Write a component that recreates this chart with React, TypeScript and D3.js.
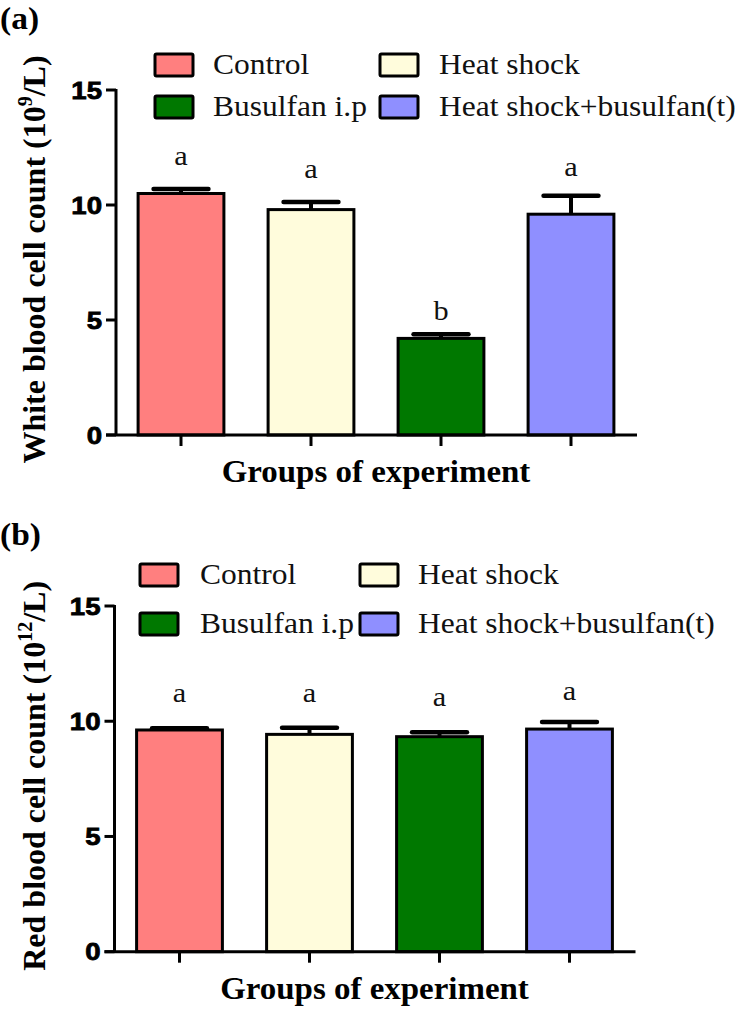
import React from "react";
import * as d3 from "d3";

const groups = ["Control", "Heat shock", "Busulfan i.p", "Heat shock+busulfan(t)"];
const colors = ["#FF7F7F", "#FFFCDC", "#007800", "#8F8FFF"];
const wbcMean = [10.5, 9.8, 4.2, 9.6];
const wbcErr = [0.2, 0.33, 0.18, 0.8];
const wbcLetters = ["a", "a", "b", "a"];
const rbcMean = [9.62, 9.43, 9.33, 9.66];
const rbcErr = [0.08, 0.29, 0.19, 0.31];
const rbcLetters = ["a", "a", "a", "a"];
const yTicks = [0, 5, 10, 15];

const SERIF = "'Liberation Serif', 'Times New Roman', serif";
const SANS = "'Liberation Sans', Arial, sans-serif";

type PanelProps = {
  tag: string;
  means: number[];
  errs: number[];
  letters: string[];
  yLabel: string;
  sup: string;
  yTop: number;
  yBottom: number;
  xLeft: number;
  legendBoxX: [number, number];
  legendTextX: [number, number];
  legendRowY: [number, number];
  labelGap: number[];
};

function Panel(p: PanelProps) {
  const y = d3.scaleLinear().domain([0, 15]).range([p.yBottom, p.yTop]);
  const x = d3
    .scaleBand<string>()
    .domain(groups)
    .range([p.xLeft, p.xLeft + 520])
    .paddingInner(0.34)
    .paddingOuter(0.17);
  const bw = x.bandwidth();
  const capW = bw * 0.64;
  const axisX = p.xLeft;
  const midY = (p.yTop + p.yBottom) / 2;
  return (
    <g>
      <g transform={`translate(0,${p.yTop - 61}) scale(1.08,1)`}>
        <text x={0} y={0} fontFamily={SERIF} fontWeight="bold" fontSize={31}>
          {p.tag}
        </text>
      </g>
      {/* legend */}
      {groups.map((g, i) => {
        const col = i % 2;
        const row = Math.floor(i / 2);
        const by = p.legendRowY[row];
        return (
          <g key={g}>
            <rect
              x={p.legendBoxX[col]}
              y={by - 20}
              width={38}
              height={22}
              fill={colors[i]}
              stroke="#000"
              strokeWidth={3}
              rx={1.5}
            />
            <g transform={`translate(${p.legendTextX[col]},${by}) scale(1.05,1)`}>
              <text x={0} y={0} fontFamily={SERIF} fontSize={30} fill="#111">
                {g}
              </text>
            </g>
          </g>
        );
      })}
      {/* bars */}
      {groups.map((g, i) => {
        const x0 = x(g)!;
        const cx = x0 + bw / 2;
        const top = y(p.means[i]);
        const et = y(p.means[i] + p.errs[i]);
        return (
          <g key={g}>
            <line x1={cx} x2={cx} y1={top} y2={et} stroke="#000" strokeWidth={4} />
            <line
              x1={cx - capW / 2}
              x2={cx + capW / 2}
              y1={et}
              y2={et}
              stroke="#000"
              strokeWidth={4.5}
              strokeLinecap="round"
            />
            <rect
              x={x0}
              y={top}
              width={bw}
              height={p.yBottom - top}
              fill={colors[i]}
              stroke="#000"
              strokeWidth={3}
            />
            <g transform={`translate(${cx},${et - p.labelGap[i]}) scale(1.08,1)`}>
              <text x={0} y={0} textAnchor="middle" fontFamily={SERIF} fontSize={28} fill="#111">
                {p.letters[i]}
              </text>
            </g>
            <line x1={cx} x2={cx} y1={p.yBottom} y2={p.yBottom + 11} stroke="#000" strokeWidth={3} />
          </g>
        );
      })}
      {/* y axis */}
      <line x1={axisX} x2={axisX} y1={p.yTop - 1} y2={p.yBottom} stroke="#000" strokeWidth={3} />
      <line x1={axisX - 10} x2={p.xLeft + 521} y1={p.yBottom} y2={p.yBottom} stroke="#000" strokeWidth={3} />
      {yTicks.map((t) => (
        <g key={t}>
          <line x1={axisX - 10} x2={axisX} y1={y(t)} y2={y(t)} stroke="#000" strokeWidth={3} />
          <g transform={`translate(${axisX - 14},${y(t)}) scale(1.15,1)`}>
            <text
              x={0}
              y={0}
              dy="0.36em"
              textAnchor="end"
              fontFamily={SANS}
              fontWeight="bold"
              fontSize={24}
              stroke="#000"
              strokeWidth={0.8}
            >
              {t}
            </text>
          </g>
        </g>
      ))}
      <text
        transform={`translate(45,${midY - 3}) rotate(-90)`}
        textAnchor="middle"
        fontFamily={SERIF}
        fontWeight="bold"
        fontSize={32}
      >
        {p.yLabel}
        <tspan fontSize={20} dy={-13}>{p.sup}</tspan>
        <tspan dy={13}>/L)</tspan>
      </text>
      <g transform={`translate(${(axisX + p.xLeft + 520) / 2},${p.yBottom + 47}) scale(1.03,1)`}>
        <text x={0} y={0} textAnchor="middle" fontFamily={SERIF} fontWeight="bold" fontSize={32}>
          Groups of experiment
        </text>
      </g>
    </g>
  );
}

export default function App() {
  return (
    <svg width={744} height={1009} style={{ position: "absolute", left: 0, top: 0, background: "#fff" }}>
      <rect width={744} height={1009} fill="#fff" />
      <Panel
        tag="(a)"
        means={wbcMean}
        errs={wbcErr}
        letters={wbcLetters}
        yLabel="White blood cell count (10"
        sup="9"
        yTop={90}
        yBottom={435}
        xLeft={116}
        legendBoxX={[155, 380]}
        legendTextX={[213, 439]}
        legendRowY={[74, 116]}
        labelGap={[24, 24, 14, 20]}
      />
      <Panel
        tag="(b)"
        means={rbcMean}
        errs={rbcErr}
        letters={rbcLetters}
        yLabel="Red blood cell count (10"
        sup="12"
        yTop={606}
        yBottom={951.7}
        xLeft={114.5}
        legendBoxX={[140, 360]}
        legendTextX={[200, 418]}
        legendRowY={[584, 633]}
        labelGap={[26, 26, 26, 22]}
      />
    </svg>
  );
}
